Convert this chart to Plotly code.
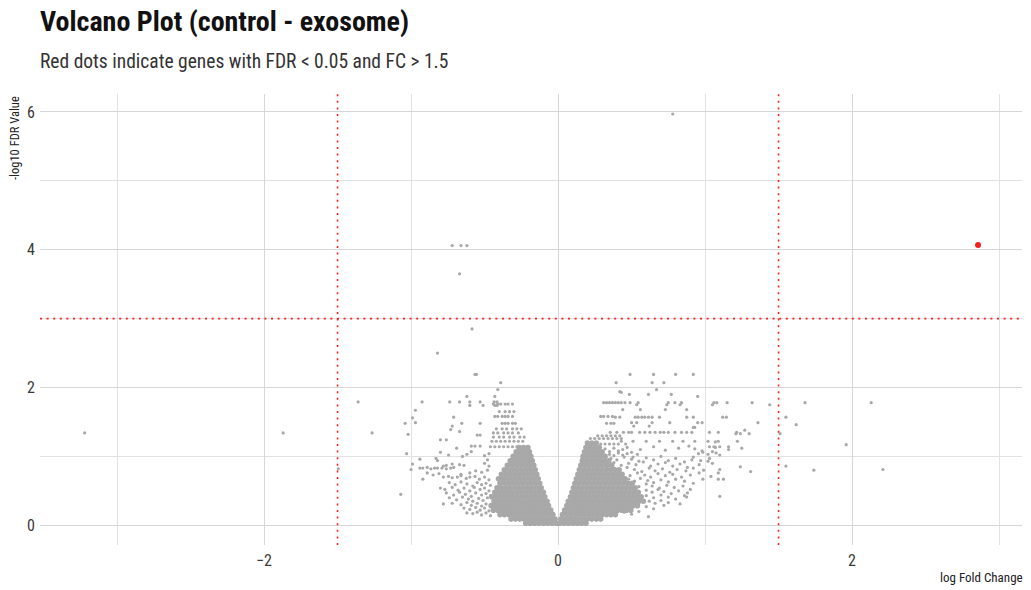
import plotly.graph_objects as go

# Gene-level results: log fold change vs -log10 FDR.
# Dense core of the volcano, rows of (-log10 FDR, [logFC, ...]).
left_core = [
    (0.03, [-0.01, -0.04, -0.07, -0.10, -0.13, -0.16, -0.19, -0.22]),
    (0.09, [-0.02, -0.05, -0.08, -0.11, -0.14, -0.17, -0.20, -0.23, -0.26, -0.29, -0.32]),
    (0.155, [-0.035, -0.065, -0.095, -0.125, -0.155, -0.185, -0.215, -0.245, -0.275, -0.305, -0.335, -0.365, -0.395]),
    (0.22, [-0.05, -0.08, -0.11, -0.14, -0.17, -0.20, -0.23, -0.26, -0.29, -0.32, -0.35, -0.38, -0.41, -0.44]),
    (0.285, [-0.065, -0.095, -0.125, -0.155, -0.185, -0.215, -0.245, -0.275, -0.305, -0.335, -0.365, -0.395, -0.425, -0.455]),
    (0.35, [-0.075, -0.105, -0.135, -0.165, -0.195, -0.225, -0.255, -0.285, -0.315, -0.345, -0.375, -0.405, -0.435]),
    (0.415, [-0.09, -0.12, -0.15, -0.18, -0.21, -0.24, -0.27, -0.30, -0.33, -0.36, -0.39, -0.42, -0.45]),
    (0.48, [-0.10, -0.13, -0.16, -0.19, -0.22, -0.25, -0.28, -0.31, -0.34, -0.37, -0.40, -0.43]),
    (0.545, [-0.115, -0.145, -0.175, -0.205, -0.235, -0.265, -0.295, -0.325, -0.355, -0.385, -0.415]),
    (0.61, [-0.125, -0.155, -0.185, -0.215, -0.245, -0.275, -0.305, -0.335, -0.365, -0.395]),
    (0.675, [-0.135, -0.165, -0.195, -0.225, -0.255, -0.285, -0.315, -0.345, -0.375, -0.405]),
    (0.74, [-0.145, -0.175, -0.205, -0.235, -0.265, -0.295, -0.325, -0.355, -0.385]),
    (0.805, [-0.155, -0.185, -0.215, -0.245, -0.275, -0.305, -0.335, -0.365]),
    (0.87, [-0.165, -0.195, -0.225, -0.255, -0.285, -0.315, -0.345]),
    (0.935, [-0.175, -0.205, -0.235, -0.265, -0.295, -0.325]),
    (1.0, [-0.185, -0.215, -0.245, -0.275, -0.305]),
    (1.065, [-0.195, -0.225, -0.255, -0.285]),
    (1.13, [-0.205, -0.235, -0.265]),
]

right_core = [
    (0.03, [0.01, 0.04, 0.07, 0.10, 0.13, 0.16, 0.19]),
    (0.09, [0.02, 0.05, 0.08, 0.11, 0.14, 0.17, 0.20, 0.23, 0.26, 0.29]),
    (0.155, [0.03, 0.06, 0.09, 0.12, 0.15, 0.18, 0.21, 0.24, 0.27, 0.30, 0.33, 0.36, 0.39]),
    (0.22, [0.045, 0.075, 0.105, 0.135, 0.165, 0.195, 0.225, 0.255, 0.285, 0.315, 0.345, 0.375, 0.405, 0.435, 0.465, 0.495]),
    (0.285, [0.06, 0.09, 0.12, 0.15, 0.18, 0.21, 0.24, 0.27, 0.30, 0.33, 0.36, 0.39, 0.42, 0.45, 0.48, 0.51, 0.54]),
    (0.35, [0.07, 0.10, 0.13, 0.16, 0.19, 0.22, 0.25, 0.28, 0.31, 0.34, 0.37, 0.40, 0.43, 0.46, 0.49, 0.52, 0.55, 0.58]),
    (0.415, [0.085, 0.115, 0.145, 0.175, 0.205, 0.235, 0.265, 0.295, 0.325, 0.355, 0.385, 0.415, 0.445, 0.475, 0.505, 0.535, 0.565]),
    (0.48, [0.095, 0.125, 0.155, 0.185, 0.215, 0.245, 0.275, 0.305, 0.335, 0.365, 0.395, 0.425, 0.455, 0.485, 0.515, 0.545]),
    (0.545, [0.105, 0.135, 0.165, 0.195, 0.225, 0.255, 0.285, 0.315, 0.345, 0.375, 0.405, 0.435, 0.465, 0.495, 0.525]),
    (0.61, [0.115, 0.145, 0.175, 0.205, 0.235, 0.265, 0.295, 0.325, 0.355, 0.385, 0.415, 0.445, 0.475, 0.505]),
    (0.675, [0.125, 0.155, 0.185, 0.215, 0.245, 0.275, 0.305, 0.335, 0.365, 0.395, 0.425, 0.455]),
    (0.74, [0.135, 0.165, 0.195, 0.225, 0.255, 0.285, 0.315, 0.345, 0.375, 0.405, 0.435]),
    (0.805, [0.145, 0.175, 0.205, 0.235, 0.265, 0.295, 0.325, 0.355, 0.385, 0.415]),
    (0.87, [0.155, 0.185, 0.215, 0.245, 0.275, 0.305, 0.335, 0.365]),
    (0.935, [0.165, 0.195, 0.225, 0.255, 0.285, 0.315, 0.345]),
    (1.0, [0.17, 0.20, 0.23, 0.26, 0.29, 0.32]),
    (1.065, [0.18, 0.21, 0.24, 0.27, 0.30]),
    (1.13, [0.19, 0.22, 0.25, 0.28]),
    (1.195, [0.20, 0.23, 0.26]),
]

# Upper scattered genes, many sharing the same FDR value.
left_upper = [
    (4.06, [-0.72, -0.66, -0.62]), (3.65, [-0.67]), (2.85, [-0.585]), (2.50, [-0.82]),
    (2.19, [-0.565, -0.555]), (2.07, [-0.39]), (1.97, [-0.41]), (1.87, [-0.62, -0.43]),
    (1.79, [-1.36, -0.925, -0.737, -0.67, -0.60, -0.53, -0.435, -0.415]),
    (1.76, [-0.44, -0.41, -0.39, -0.36, -0.34, -0.31]),
    (1.74, [-0.60, -0.51, -0.43, -0.415]), (1.67, [-0.97]),
    (1.65, [-0.40, -0.36, -0.33, -0.30]),
    (1.58, [-0.43, -0.41, -0.38, -0.36, -0.34, -0.31]),
    (1.57, [-0.71]), (1.56, [-0.99]), (1.49, [-0.97]),
    (1.48, [-1.04, -0.655, -0.53, -0.38, -0.36, -0.34, -0.31, -0.29]),
    (1.44, [-0.72]), (1.40, [-0.42, -0.38, -0.35, -0.31, -0.28, -0.25]),
    (1.39, [-0.73]), (1.36, [-0.67]),
    (1.34, [-3.22, -1.87, -1.265, -0.44, -0.41, -0.37, -0.34, -0.31, -0.27]),
    (1.32, [-1.02]), (1.31, [-0.55, -0.53]),
    (1.28, [-0.44, -0.40, -0.37, -0.33, -0.30, -0.26, -0.23]),
    (1.24, [-0.80, -0.76]),
    (1.22, [-0.45, -0.42, -0.39, -0.36, -0.33, -0.30, -0.27, -0.24]),
    (1.15, [-0.59, -0.565, -0.53]),
    (1.14, [-0.46, -0.43, -0.40, -0.37, -0.34, -0.31, -0.28]),
    (1.12, [-0.69]),
]

right_upper = [
    (5.97, [0.78]),
    (2.19, [0.49, 0.65, 0.80, 0.92]), (2.07, [0.395, 0.64, 0.72]), (1.97, [0.67]),
    (1.94, [0.42]), (1.93, [0.43]), (1.90, [0.485, 0.615, 0.77]), (1.87, [0.95]),
    (1.78, [0.31, 0.33, 0.35, 0.37, 0.39, 0.41, 0.43, 0.455, 0.49, 0.545, 0.75, 0.795, 0.84,
            1.06, 1.08, 1.15, 1.32, 1.68, 2.13]),
    (1.75, [0.535, 0.74, 0.83, 1.05, 1.44]), (1.68, [0.44, 0.56, 0.73, 0.875]),
    (1.58, [0.29, 0.31, 0.34, 0.37]),
    (1.57, [0.39, 0.42, 0.525, 0.545, 0.57, 0.59, 0.615, 0.64, 0.69, 0.875, 0.92, 1.12, 1.145, 1.55]),
    (1.49, [0.50, 0.535, 0.64, 0.76, 0.95, 0.98, 1.36]), (1.48, [0.33, 0.36, 0.38]),
    (1.46, [1.62]), (1.44, [0.515, 0.62]), (1.42, [0.92, 0.93]), (1.38, [1.27]),
    (1.35, [0.355, 0.40, 0.445, 0.48, 0.50, 0.555, 0.59, 0.625, 0.66, 0.695, 0.72, 0.75, 0.795,
            0.84, 0.875, 0.91, 1.03, 1.09, 1.215]),
    (1.33, [1.21, 1.24, 1.30, 1.51]), (1.30, [0.27, 0.30, 0.33, 0.36, 0.39, 0.42]),
    (1.26, [0.22, 0.25, 0.28, 0.31, 0.34, 0.37, 0.40, 0.43]),
    (1.22, [0.43, 0.51, 0.60, 0.69, 0.78, 0.85, 0.93, 1.02, 1.09, 1.22]), (1.21, [1.07]),
    (1.18, [0.29, 0.32, 0.35, 0.38, 0.41, 0.46]), (1.17, [1.96]),
    (1.14, [1.03, 1.06, 1.10, 1.16]),
]

# Lower scattered genes around the core, as (logFC, -log10 FDR) pairs.
left_mid = [
    (-0.80, 1.06), (-0.59, 1.07), (-1.03, 1.04), (-0.62, 1.03), (-0.745, 1.02), (-0.50, 1.01),
    (-0.47, 1.04), (-0.65, 1.00), (-0.83, 0.97), (-0.94, 0.96), (-0.82, 0.94), (-0.48, 0.95),
    (-0.99, 0.89), (-0.72, 0.89), (-0.67, 0.88), (-0.64, 0.87), (-0.50, 0.90), (-0.47, 0.86),
    (-0.78, 0.86), (-0.76, 0.87),
    (-0.94, 0.83), (-0.92, 0.83), (-0.89, 0.84), (-0.865, 0.82), (-0.84, 0.83), (-0.82, 0.83),
    (-0.79, 0.83), (-0.76, 0.82), (-0.73, 0.83), (-0.71, 0.84),
    (-1.495, 0.82), (-1.0, 0.81), (-0.56, 0.79), (-0.52, 0.77), (-0.48, 0.80), (-0.89, 0.76),
    (-0.81, 0.75), (-0.66, 0.74), (-0.60, 0.76), (-0.85, 0.73),
    (-0.78, 0.70), (-0.745, 0.71), (-0.72, 0.69), (-0.685, 0.70), (-0.66, 0.72), (-0.625, 0.68),
    (-0.60, 0.70), (-0.565, 0.71), (-0.535, 0.67), (-0.50, 0.70), (-0.47, 0.66), (-0.92, 0.67),
    (-0.74, 0.62), (-0.70, 0.59), (-0.66, 0.63), (-0.62, 0.60), (-0.58, 0.57), (-0.55, 0.62),
    (-0.52, 0.59), (-0.49, 0.61), (-0.46, 0.58),
    (-0.80, 0.54), (-0.77, 0.52), (-0.72, 0.55), (-0.68, 0.51), (-0.64, 0.54), (-0.60, 0.50),
    (-0.57, 0.55), (-0.53, 0.52), (-0.50, 0.54), (-0.47, 0.50),
    (-0.76, 0.47), (-0.71, 0.44), (-0.67, 0.48), (-0.63, 0.45), (-0.59, 0.42), (-0.56, 0.47),
    (-0.52, 0.44), (-0.49, 0.46), (-0.46, 0.43), (-1.07, 0.45),
    (-0.74, 0.40), (-0.69, 0.37), (-0.65, 0.41), (-0.61, 0.38), (-0.58, 0.35), (-0.54, 0.39),
    (-0.51, 0.36), (-0.48, 0.40),
    (-0.72, 0.32), (-0.66, 0.30), (-0.62, 0.33), (-0.59, 0.29), (-0.55, 0.32), (-0.52, 0.28),
    (-0.49, 0.31), (-0.78, 0.31),
    (-0.64, 0.25), (-0.60, 0.23), (-0.56, 0.26), (-0.53, 0.22), (-0.50, 0.25), (-0.47, 0.21),
    (-0.62, 0.18), (-0.58, 0.17), (-0.55, 0.19), (-0.52, 0.15), (-0.49, 0.18), (-0.46, 0.14),
]

right_mid = [
    (0.47, 1.13), (0.56, 1.10), (0.65, 1.14), (0.73, 1.09), (0.82, 1.12), (0.89, 1.15),
    (0.93, 1.11), (0.98, 1.08), (1.07, 1.13), (1.16, 1.10), (1.25, 1.12),
    (0.32, 1.11), (0.35, 1.07), (0.38, 1.12), (0.41, 1.08), (0.44, 1.10), (0.50, 1.06),
    (0.955, 1.04), (0.985, 1.06), (1.02, 1.03), (1.05, 1.07), (1.075, 1.05), (1.10, 1.02),
    (0.35, 1.03), (0.38, 1.01), (0.41, 1.05), (0.44, 1.02), (0.47, 1.04), (0.51, 0.99), (0.54, 1.03),
    (0.36, 0.97), (0.40, 0.95), (0.45, 0.99), (0.50, 0.96), (0.55, 0.93), (0.60, 0.98),
    (0.65, 0.95), (0.70, 1.00), (0.75, 0.94), (0.80, 0.97), (0.86, 0.92), (0.92, 0.99),
    (0.97, 0.94), (1.03, 0.97), (0.91, 0.95), (1.02, 0.93),
    (0.34, 0.89), (0.38, 0.91), (0.43, 0.87), (0.48, 0.90), (0.53, 0.88), (0.58, 0.92),
    (0.63, 0.86), (0.68, 0.89), (0.73, 0.91), (0.78, 0.86), (0.83, 0.89), (0.88, 0.84),
    (0.96, 0.88), (1.05, 0.90),
    (0.38, 0.83), (0.42, 0.80), (0.47, 0.84), (0.52, 0.81), (0.57, 0.78), (0.62, 0.83),
    (0.66, 0.79), (0.71, 0.82), (0.76, 0.77), (0.81, 0.81), (0.87, 0.79), (0.92, 0.83),
    (0.99, 0.80), (1.10, 0.81),
    (0.44, 0.75), (0.49, 0.72), (0.54, 0.76), (0.59, 0.73), (0.63, 0.70), (0.68, 0.75),
    (0.73, 0.72), (0.78, 0.74), (0.84, 0.70), (0.90, 0.73), (0.96, 0.76), (1.04, 0.71),
    (0.48, 0.67), (0.52, 0.64), (0.56, 0.68), (0.61, 0.65), (0.65, 0.62), (0.70, 0.66),
    (0.75, 0.63), (0.80, 0.67), (0.86, 0.64), (0.92, 0.61),
    (0.50, 0.59), (0.55, 0.56), (0.60, 0.60), (0.64, 0.57), (0.69, 0.54), (0.74, 0.58),
    (0.79, 0.55), (0.85, 0.57), (0.90, 0.52),
    (0.60, 0.51), (0.64, 0.48), (0.68, 0.52), (0.72, 0.49), (0.77, 0.46), (0.82, 0.50), (0.88, 0.47),
    (0.60, 0.43), (0.65, 0.40), (0.70, 0.44), (0.75, 0.41), (0.80, 0.38), (0.86, 0.43),
    (0.875, 0.41), (1.10, 0.42),
    (0.62, 0.35), (0.66, 0.32), (0.70, 0.36), (0.75, 0.33), (0.72, 0.29), (0.83, 0.31),
    (0.60, 0.27), (0.65, 0.24),
    (0.45, 0.19), (0.50, 0.16), (0.55, 0.20), (0.615, 0.125),
    (1.55, 0.86), (1.24, 0.85), (2.21, 0.81), (1.74, 0.80), (1.31, 0.78), (1.09, 0.76),
    (0.985, 0.67), (1.09, 0.67), (1.125, 0.67),
]

# Genes passing both cut-offs
sig_logfc = [2.857]
sig_fdr = [4.07]

# Cut-off lines
fc_cut = 1.5
fdr_line = 3.0

FONT = "Roboto Condensed, Liberation Sans Narrow, DejaVu Sans Condensed, Roboto, sans-serif"
GRAY = "#a8a8a8"
RED = "#f2201f"


def expand(rows):
    xs, ys = [], []
    for y, row in rows:
        for x in row:
            xs.append(x)
            ys.append(y)
    return xs, ys


core_x, core_y = expand(left_core + right_core)
up_x, up_y = expand(left_upper + right_upper)
mid_x = [p[0] for p in left_mid + right_mid]
mid_y = [p[1] for p in left_mid + right_mid]

fig = go.Figure()
fig.add_trace(go.Scatter(x=core_x, y=core_y, mode="markers",
                         marker=dict(color=GRAY, size=5.6, line=dict(width=0)),
                         hoverinfo="skip"))
fig.add_trace(go.Scatter(x=up_x + mid_x, y=up_y + mid_y, mode="markers",
                         marker=dict(color=GRAY, size=3.2, line=dict(width=0))))
fig.add_trace(go.Scatter(x=sig_logfc, y=sig_fdr, mode="markers",
                         marker=dict(color=RED, size=6, line=dict(width=0))))

dotted = dict(color=RED, width=1.6, dash="2px,4.6px")
for xv in (-fc_cut, fc_cut):
    fig.add_shape(type="line", xref="x", yref="paper", x0=xv, x1=xv, y0=0, y1=1,
                  line=dotted, layer="above")
fig.add_shape(type="line", xref="paper", yref="y", x0=0, x1=1, y0=fdr_line, y1=fdr_line,
              line=dotted, layer="above")

grid = "#d6d6d6"
axis_common = dict(showgrid=True, gridcolor=grid, gridwidth=1, zeroline=False,
                   showline=False, ticks="", tickfont=dict(size=16, color="#3a3a3a"),
                   dtick=2, tick0=0,
                   minor=dict(dtick=1, tick0=0, showgrid=True, gridcolor="#e2e2e2", gridwidth=1))

fig.update_layout(
    width=1031, height=590,
    margin=dict(l=40, r=9, t=94, b=45),
    plot_bgcolor="white", paper_bgcolor="white",
    showlegend=False,
    font=dict(family=FONT, color="#222"),
    xaxis=dict(range=[-3.524, 3.156], ticklabelstandoff=4, **axis_common),
    yaxis=dict(range=[-0.286, 6.26], ticklabelstandoff=4, **axis_common),
    annotations=[
        dict(text="<b>Volcano Plot (control - exosome)</b>", xref="paper", yref="paper",
             x=-0.002, y=1.16, xanchor="left", yanchor="middle", showarrow=False,
             font=dict(size=28, color="#111", family=FONT)),
        dict(text="Red dots indicate genes with FDR < 0.05 and FC > 1.5", xref="paper",
             yref="paper", x=-0.002, y=1.073, xanchor="left", yanchor="middle", showarrow=False,
             font=dict(size=19.5, color="#333", family=FONT)),
        dict(text="-log10 FDR Value", xref="paper", yref="paper", x=-0.0265, y=1.0,
             xanchor="center", yanchor="top", textangle=-90, showarrow=False,
             font=dict(size=12.5, color="#222", family=FONT)),
        dict(text="log Fold Change", xref="paper", yref="paper", x=1.003, y=-0.071,
             xanchor="right", yanchor="middle", showarrow=False,
             font=dict(size=13, color="#222", family=FONT)),
    ],
)

fig.write_html("out.html")
